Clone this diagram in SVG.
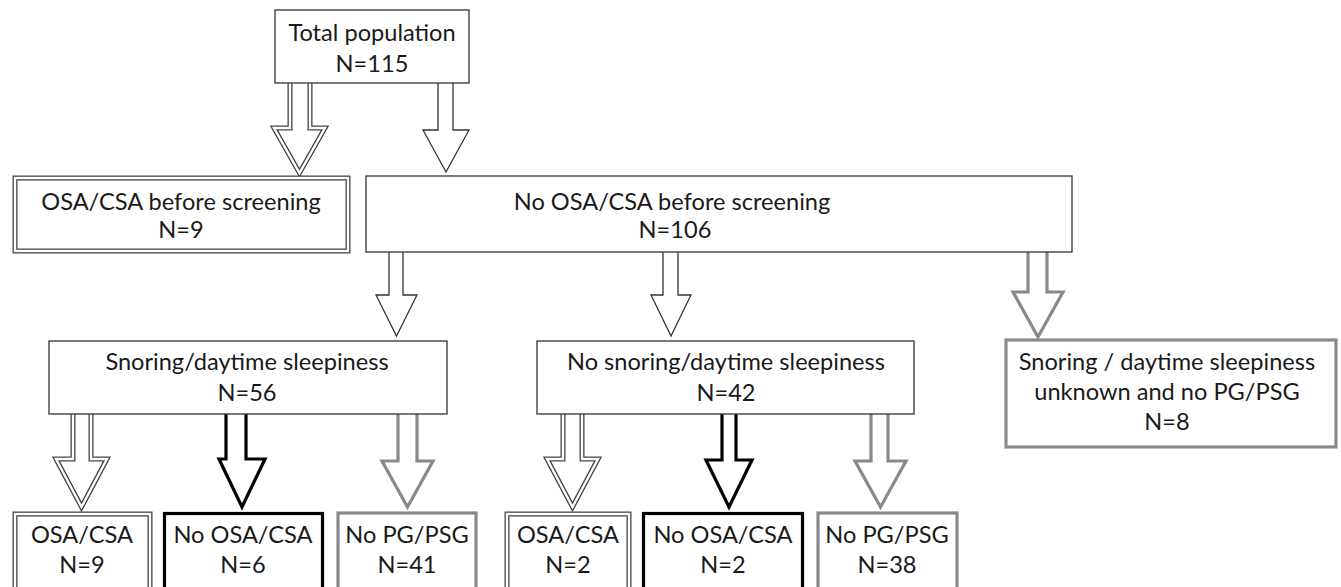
<svg xmlns="http://www.w3.org/2000/svg" width="1341" height="587" viewBox="0 0 1341 587">
<defs>
<style>
text{font-family:Lato,"Open Sans","Liberation Sans",sans-serif;font-size:23.6px;fill:#1a1a1a;text-anchor:middle}
.plain{fill:#fff;stroke:#333;stroke-width:1.3}
.dblo{fill:#fff;stroke:#444;stroke-width:5}
.dbli{fill:none;stroke:#fff;stroke-width:2.4}
.blk{fill:#fff;stroke:#000;stroke-width:3.2}
.gry{fill:#fff;stroke:#8a8a8a;stroke-width:3.2}
</style>
</defs>
<rect width="1341" height="587" fill="#fff"/>
<g id="connectors">
<g id="a1"><path class="dblo" d="M290,83 V128 H274 L299.5,173 L325,128 H310 V83"/><path class="dbli" d="M290,83 V128 H274 L299.5,173 L325,128 H310 V83"/></g>
<path id="a2" class="plain" d="M438,83 V130 H423 L446,172 L469,130 H453 V83"/>
<path id="a3" class="plain" d="M389,252 V295 H376 L396.5,336 L417,295 H403 V252"/>
<path id="a4" class="plain" d="M663,252 V295 H651 L671,336 L691,295 H678 V252"/>
<path id="a5" class="gry" d="M1028,252 V292 H1013 L1038,337 L1063,292 H1047 V252"/>
<g id="a6"><path class="dblo" d="M73,414 V459 H56 L81.5,507 L107,459 H91 V414"/><path class="dbli" d="M73,414 V459 H56 L81.5,507 L107,459 H91 V414"/></g>
<path id="a7" class="blk" d="M226,414 V459 H219 L242,507 L265,459 H246 V414"/>
<path id="a8" class="gry" d="M398,414 V461 H382 L407.5,507 L433,461 H417 V414"/>
<g id="a9"><path class="dblo" d="M563,414 V459 H547 L572.5,507 L598,459 H582 V414"/><path class="dbli" d="M563,414 V459 H547 L572.5,507 L598,459 H582 V414"/></g>
<path id="a10" class="blk" d="M722,414 V460 H706 L729,507 L752,460 H736 V414"/>
<path id="a11" class="gry" d="M871,414 V461 H855 L880.5,507 L906,461 H888 V414"/>
</g>
<g id="total">
<rect class="plain" x="275" y="10" width="194" height="73"/>
<text x="372" y="41">Total population</text>
<text x="372" y="72">N=115</text>
</g>
<g id="osa_before">
<rect class="dblo" x="15" y="178" width="333" height="73"/>
<rect class="dbli" x="15" y="178" width="333" height="73"/>
<text x="181" y="210">OSA/CSA before screening</text>
<text x="181" y="238">N=9</text>
</g>
<g id="no_osa_before">
<rect class="plain" x="366" y="176" width="706" height="76"/>
<text x="672" y="210">No OSA/CSA before screening</text>
<text x="675" y="238">N=106</text>
</g>
<g id="snoring">
<rect class="plain" x="49" y="341" width="398" height="73"/>
<text x="247" y="370">Snoring/daytime sleepiness</text>
<text x="247" y="401">N=56</text>
</g>
<g id="no_snoring">
<rect class="plain" x="537" y="341" width="377" height="73"/>
<text x="726" y="370">No snoring/daytime sleepiness</text>
<text x="726" y="401">N=42</text>
</g>
<g id="unknown">
<rect class="gry" x="1006" y="340" width="330" height="107"/>
<text x="1167" y="370">Snoring / daytime sleepiness</text>
<text x="1167" y="400">unknown and no PG/PSG</text>
<text x="1167" y="430">N=8</text>
</g>
<g id="s_osa">
<rect class="dblo" x="15" y="514" width="135" height="90"/>
<rect class="dbli" x="15" y="514" width="135" height="90"/>
<text x="82" y="543">OSA/CSA</text>
<text x="82" y="573">N=9</text>
</g>
<g id="s_noosa">
<rect class="blk" x="164.5" y="513.5" width="158" height="90"/>
<text x="243" y="543">No OSA/CSA</text>
<text x="243" y="573">N=6</text>
</g>
<g id="s_nopg">
<rect class="gry" x="338" y="513" width="138" height="90"/>
<text x="407" y="543">No PG/PSG</text>
<text x="407" y="573">N=41</text>
</g>
<g id="n_osa">
<rect class="dblo" x="507" y="514" width="122" height="90"/>
<rect class="dbli" x="507" y="514" width="122" height="90"/>
<text x="568" y="543">OSA/CSA</text>
<text x="568" y="573">N=2</text>
</g>
<g id="n_noosa">
<rect class="blk" x="643.5" y="513.5" width="159" height="90"/>
<text x="723" y="543">No OSA/CSA</text>
<text x="723" y="573">N=2</text>
</g>
<g id="n_nopg">
<rect class="gry" x="818" y="513" width="139" height="90"/>
<text x="887" y="543">No PG/PSG</text>
<text x="887" y="573">N=38</text>
</g>
</svg>
